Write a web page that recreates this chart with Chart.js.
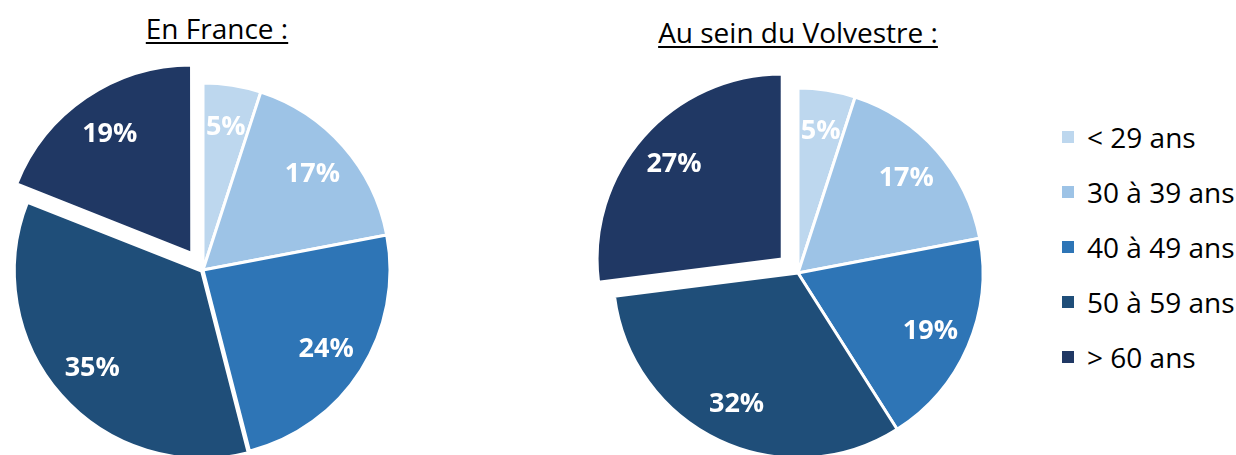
<!DOCTYPE html>
<html lang="fr">
<head>
<meta charset="utf-8">
<title>Répartition par âge</title>
<script src="https://cdn.jsdelivr.net/npm/chart.js@4.4.1/dist/chart.umd.min.js"></script>
<style>
  html, body { margin: 0; padding: 0; background: #fff; overflow: hidden; }
  body { width: 1236px; height: 455px; position: relative; font-family: "Open Sans", sans-serif; }
  .titre {
    position: absolute; font-size: 28px; line-height: 1; color: #000; white-space: nowrap;
    text-decoration: underline; text-decoration-thickness: 2px; text-underline-offset: 3px;
    transform: translateX(-50%);
  }
  #titreFrance { left: 217px; top: 14px; }
  #titreVolvestre { left: 798px; top: 18px; }
  canvas { position: absolute; top: 0; }
  #chartFrance { left: 0; }
  #chartVolvestre { left: 598px; }
  #legende { position: absolute; left: 1062px; top: 109px; margin: 0; padding: 0; list-style: none; }
  #legende li { height: 55px; display: flex; align-items: center; font-size: 28px; color: #000; white-space: nowrap; }
  #legende .carre { width: 12px; height: 12px; margin-right: 13px; flex: none; }
</style>
</head>
<body>
<div class="titre" id="titreFrance"></div>
<div class="titre" id="titreVolvestre"></div>
<canvas id="chartFrance" width="406" height="540"></canvas>
<canvas id="chartVolvestre" width="400" height="546"></canvas>
<ul id="legende"></ul>

<script>
// Données
const categories = ['< 29 ans', '30 à 39 ans', '40 à 49 ans', '50 à 59 ans', '> 60 ans'];
const franceValues = [5, 17, 24, 35, 19];
const volvestreValues = [5, 17, 19, 32, 27];
const titres = ['En France :', 'Au sein du Volvestre :'];
const couleurs = ['#BDD7EE', '#9DC3E6', '#2E75B6', '#1F4E79', '#203864'];

document.getElementById('titreFrance').textContent = titres[0];
document.getElementById('titreVolvestre').textContent = titres[1];

// Légende commune, à droite
const legende = document.getElementById('legende');
categories.forEach(function(cat, i) {
    const li = document.createElement('li');
    const carre = document.createElement('span');
    carre.className = 'carre';
    carre.style.background = couleurs[i];
    li.appendChild(carre);
    li.appendChild(document.createTextNode(cat));
    legende.appendChild(li);
});

// Pourcentages en blanc dans chaque part
const etiquettes = {
    id: 'etiquettes',
    afterDatasetsDraw(chart) {
        const ctx = chart.ctx;
        const meta = chart.getDatasetMeta(0);
        const valeurs = chart.data.datasets[0].data;
        ctx.save();
        ctx.font = 'bold 27px "Open Sans"';
        ctx.fillStyle = '#fff';
        ctx.textAlign = 'center';
        ctx.textBaseline = 'middle';
        meta.data.forEach(function(arc, i) {
            const p = arc.getProps(['x', 'y', 'startAngle', 'endAngle', 'outerRadius'], true);
            const milieu = (p.startAngle + p.endAngle) / 2;
            const r = p.outerRadius * 0.78 + (arc.options.offset || 0) / 4;
            ctx.fillText(valeurs[i] + '%', p.x + Math.cos(milieu) * r, p.y + Math.sin(milieu) * r + 1);
        });
        ctx.restore();
    }
};

function camembert(id, valeurs, decalages, rayon) {
    return new Chart(document.getElementById(id), {
        type: 'pie',
        data: {
            labels: categories,
            datasets: [{
                data: valeurs,
                backgroundColor: couleurs,
                borderColor: '#fff',
                borderWidth: 3,
                offset: decalages
            }]
        },
        options: {
            responsive: false,
            animation: false,
            radius: rayon,
            layout: { padding: 0 },
            plugins: {
                legend: { display: false },
                tooltip: { enabled: false }
            }
        },
        plugins: [etiquettes]
    });
}

camembert('chartFrance', franceValues, [0, 0, 0, 7, 80], 187);
camembert('chartVolvestre', volvestreValues, [0, 0, 0, 0, 84], 185);
</script>
</body>
</html>
